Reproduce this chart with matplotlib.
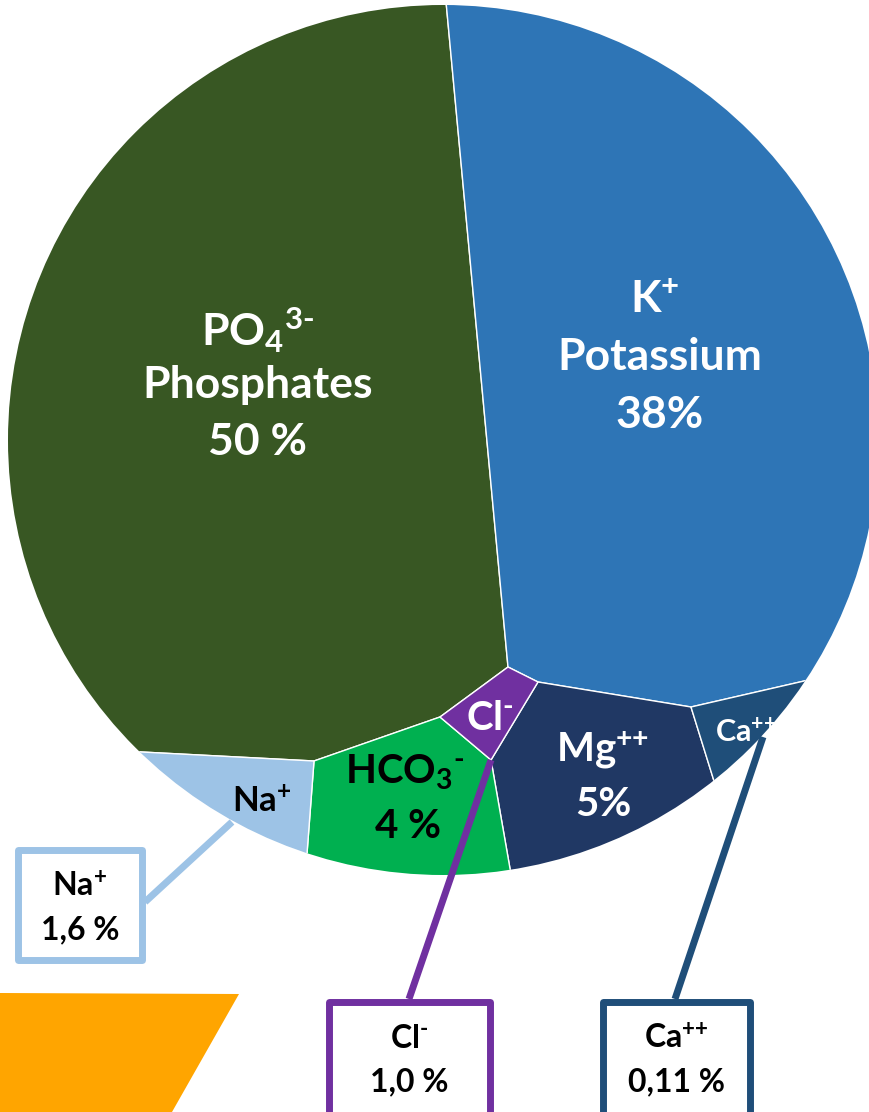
import matplotlib
matplotlib.use("Agg")
import matplotlib.pyplot as plt
from matplotlib.patches import Circle, Polygon, Rectangle

plt.rcParams['font.family'] = ['Lato', 'DejaVu Sans']
plt.rcParams['font.weight'] = 'bold'
plt.rcParams['mathtext.fontset'] = 'custom'
plt.rcParams['mathtext.rm'] = 'Lato:bold'
plt.rcParams['mathtext.bf'] = 'Lato:bold'
plt.rcParams['mathtext.it'] = 'Lato:bold'

# Datos: composicion ionica (%)
ions = ["PO4", "K", "Mg", "HCO3", "Na", "Cl", "Ca"]
formulas = [r"$\text{PO}_{\text{4}}{}^{\text{3-}}$", r"$\text{K}^{\text{+}}$", r"$\text{Mg}^{\text{++}}$",
            r"$\text{HCO}_{\text{3}}{}^{\text{-}}$", r"$\text{Na}^{\text{+}}$", r"$\text{Cl}^{\text{-}}$",
            r"$\text{Ca}^{\text{++}}$"]
names = ["Phosphates", "Potassium", "", "", "", "", ""]
percents = ["50 %", "38%", "5%", "4 %", "1,6 %", "1,0 %", "0,11 %"]
colors = ["#385723", "#2E75B6", "#203864", "#00B050", "#9DC3E6", "#7030A0", "#1F4E79"]

# Celdas del diagrama (coordenadas en pixeles, se recortan con el circulo)
cells = {
    "PO4": [(444, -20), (508, 667), (440, 717), (314, 761), (-50, 742), (-50, -20)],
    "K": [(444, -20), (900, -20), (900, 659), (691, 707), (538, 682), (508, 667)],
    "Ca": [(691, 707), (900, 659), (900, 900), (751, 900)],
    "Mg": [(538, 682), (691, 707), (751, 900), (519, 920), (491, 760)],
    "Cl": [(508, 667), (538, 682), (491, 760), (440, 717)],
    "HCO3": [(440, 717), (491, 760), (519, 920), (302, 920), (314, 761)],
    "Na": [(-50, 742), (314, 761), (302, 920), (-50, 920)],
}

fig = plt.figure(figsize=(8.69, 11.12), dpi=100)
ax = fig.add_axes([0, 0, 1, 1])
ax.set_xlim(0, 869)
ax.set_ylim(1112, 0)
ax.axis('off')

circulo = Circle((443, 440), 435, transform=ax.transData, facecolor='none', edgecolor='none')
ax.add_patch(circulo)

for ion, color in zip(ions, colors):
    p = Polygon(cells[ion], closed=True, facecolor=color, edgecolor='white', linewidth=1.0, zorder=2)
    ax.add_patch(p)
    p.set_clip_path(circulo)

# Etiquetas dentro del circulo
def etiqueta(x, y, s, size, color, ha='center'):
    return ax.text(x, y, s, ha=ha, va='center', fontsize=size, color=color,
                   fontweight='bold', zorder=5)

etiqueta(258, 330, formulas[0], 32, 'white')
etiqueta(258, 385, names[0], 32, 'white')
etiqueta(258, 442, percents[0], 32, 'white')

etiqueta(655, 300, formulas[1], 32, 'white')
etiqueta(660, 357, names[1], 32, 'white')
etiqueta(660, 415, percents[1], 32, 'white')

etiqueta(603, 750, formulas[2], 29, 'white')
etiqueta(603, 805, percents[2], 29, 'white')

etiqueta(405, 772, formulas[3], 29, 'black')
etiqueta(408, 826, percents[3], 29, 'black')

etiqueta(262, 802, formulas[4], 25, 'black')
etiqueta(490, 718, formulas[5], 29, 'white')
t = etiqueta(715, 732, formulas[6], 22, 'white', ha='left')
t.set_clip_path(circulo)

# Lineas guia y recuadros
guias = [((232, 822), (145, 902), colors[4]),
         ((491, 760), (409, 999), colors[5]),
         ((763, 737), (675, 999), colors[6])]
for (x0, y0), (x1, y1), c in guias:
    ax.plot([x0, x1], [y0, y1], color=c, linewidth=5, solid_capstyle='butt', zorder=6)

cajas = [(18, 850, 124, 110, 4), (329, 1002, 161, 140, 5), (603, 1002, 147, 140, 6)]
for x, y, w, h, i in cajas:
    ax.add_patch(Rectangle((x, y), w, h, facecolor='white', edgecolor=colors[i],
                           linewidth=5, joinstyle='round', zorder=7))
    cx = x + w / 2
    ax.text(cx, y + 36, formulas[i], ha='center', va='center', fontsize=23, color='black', zorder=8)
    ax.text(cx, y + 80, percents[i], ha='center', va='center', fontsize=23, color='black', zorder=8)

# Forma naranja abajo a la izquierda
ax.add_patch(Polygon([(0, 993), (239, 994), (172, 1112), (0, 1112)], closed=True,
                     facecolor='#FFA500', edgecolor='none', zorder=1))

fig.savefig("out.png", dpi=100)
